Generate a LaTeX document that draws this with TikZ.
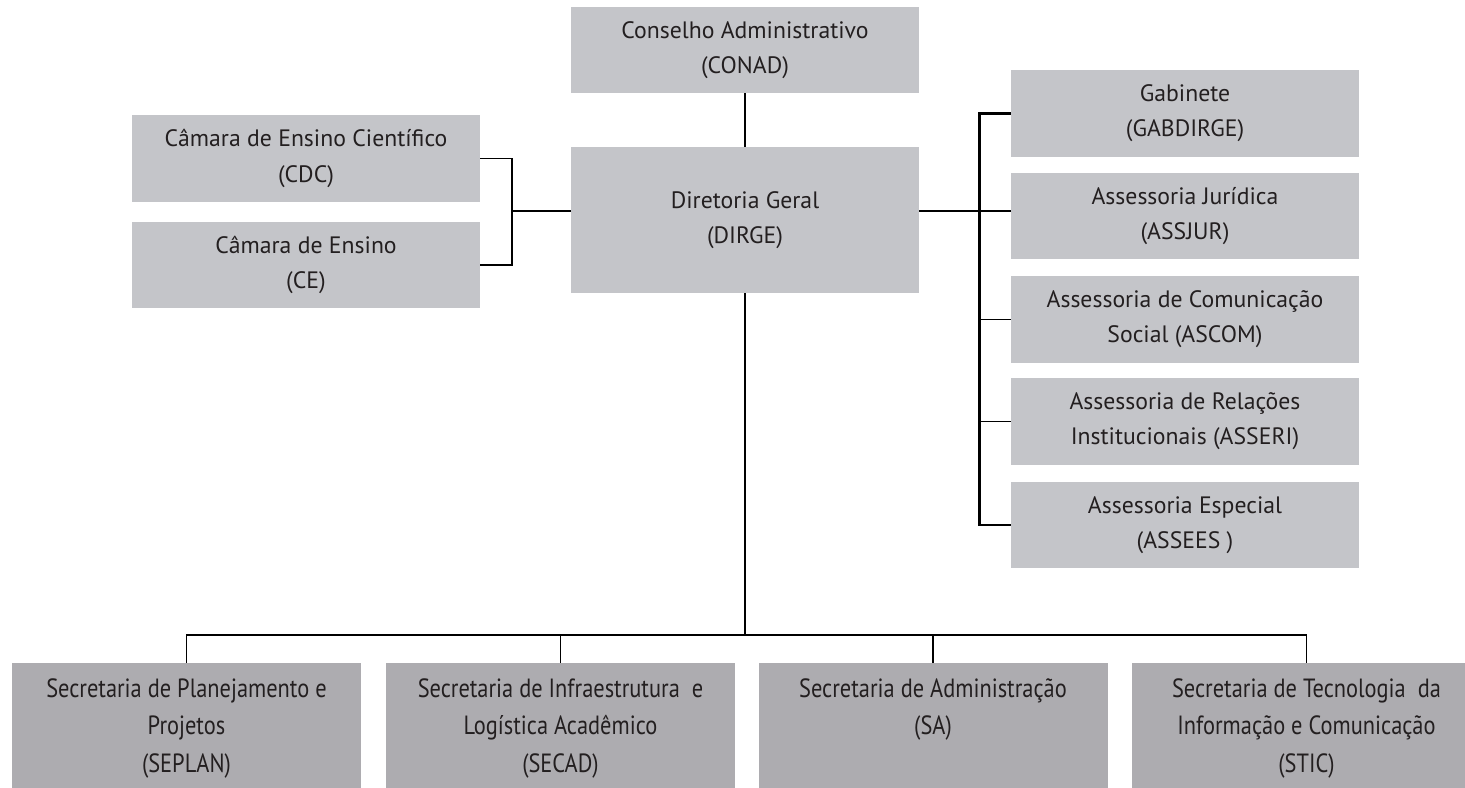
\documentclass[tikz,border=0pt]{standalone}
\usepackage{fontspec}
\setmainfont{PT Sans}
\newfontfamily\condfont[FakeStretch=0.85]{PT Sans}

\definecolor{boxgray}{RGB}{196,197,201}
\definecolor{secgray}{RGB}{173,172,176}
\definecolor{txt}{RGB}{35,31,32}

\begin{document}
\begin{tikzpicture}[x=0.2mm, y=-0.2mm,
  box/.style={fill=boxgray, minimum width=69.6mm, inner sep=0pt, align=center,
    text=txt, font=\fontsize{13.5}{17}\selectfont},
  secbox/.style={fill=secgray, minimum width=69.8mm, minimum height=26mm,
    inner sep=0pt, anchor=north},
  sectext/.style={anchor=north, inner sep=0pt, align=center, text=txt,
    font=\condfont\fontsize{15}{17.5}\selectfont},
  thin/.style={line width=1.1pt},
  heavy/.style={line width=1.7pt}]
  \clip (0,0) rectangle (1465,788);

  \node[box, minimum height=17.2mm] (CONAD) at (745,50) {Conselho Administrativo\\[3pt](CONAD)};
  \node[box, minimum height=29.2mm] (DIRGE) at (745,220) {Diretoria Geral\\[3pt](DIRGE)};

  \node[box, minimum height=17.4mm] (CDC) at (306,158.5) {Câmara de Ensino Científico\\[3pt](CDC)};
  \node[box, minimum height=17.2mm] (CE) at (306,265) {Câmara de Ensino\\[3pt](CE)};

  \node[box, minimum height=17.4mm] (GAB) at (1185,113.5) {Gabinete\\[3pt](GABDIRGE)};
  \node[box, minimum height=17.2mm] (ASSJUR) at (1185,216) {Assessoria Jurídica\\[3pt](ASSJUR)};
  \node[box, minimum height=17.4mm] (ASCOM) at (1185,319.5) {Assessoria de Comunicação\\[3pt]Social (ASCOM)};
  \node[box, minimum height=17.4mm] (ASSERI) at (1185,421.5) {Assessoria de Relações\\[3pt]Institucionais (ASSERI)};
  \node[box, minimum height=17.2mm] (ASSEES) at (1185,525) {Assessoria Especial\\[3pt](ASSEES )};

  \node[secbox] (SEPLAN) at (186.5,663) {};
  \node[secbox] (SECAD) at (560.5,663) {};
  \node[secbox] (SA) at (933,663) {};
  \node[secbox] (STIC) at (1306.5,663) {};
  \node[sectext] (SEPLANt) at ([yshift=-3mm]SEPLAN.north) {Secretaria de Planejamento e\\[4pt]Projetos\\[4pt](SEPLAN)};
  \node[sectext] (SECADt) at ([yshift=-3mm]SECAD.north) {Secretaria de Infraestrutura\ \ e\\[4pt]Logística Acadêmico\\[4pt](SECAD)};
  \node[sectext] (SAt) at ([yshift=-3mm]SA.north) {Secretaria de Administração\\[4pt](SA)};
  \node[sectext] (STICt) at ([yshift=-3mm]STIC.north) {Secretaria de Tecnologia\ \ da\\[4pt]Informação e Comunicação\\[4pt](STIC)};

  \coordinate (lj) at (512,211);
  \coordinate (rj) at (979,211);
  \coordinate (bus) at (745,635);

  \draw[thin] (CONAD) -- (DIRGE);
  \draw[thin] (CDC.east) -| (lj) |- (CE.east);
  \draw[thin] (lj) -- (DIRGE.west |- lj);

  \draw[heavy] (DIRGE.east |- rj) -- (ASSJUR.west |- rj);
  \draw[heavy] (GAB.west) -| (rj) |- (ASSEES.west);
  \draw[thin] (rj |- ASCOM) -- (ASCOM.west);
  \draw[thin] (rj |- ASSERI) -- (ASSERI.west);

  \draw[thin] (DIRGE) -- (bus);
  \draw[thin] (SEPLAN.north) |- (bus) -| (STIC.north);
  \draw[thin] (SECAD.north) -- (SECAD.north |- bus);
  \draw[thin] (SA.north) -- (SA.north |- bus);
\end{tikzpicture}
\end{document}
